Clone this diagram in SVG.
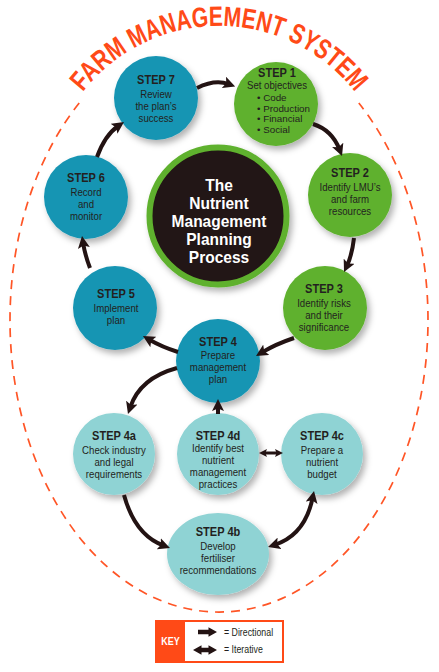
<svg xmlns="http://www.w3.org/2000/svg" width="439" height="672" viewBox="0 0 439 672">
<defs>
<style>
text{font-family:"Liberation Sans",Arial,sans-serif;fill:#231f20;text-anchor:middle}
.st{font-size:12px;font-weight:bold}
.bd{font-size:10.5px}
.bl{font-size:9.8px;text-anchor:start}
.ct{font-size:16px;font-weight:bold;fill:#ffffff}
.title{font-size:28px;font-weight:bold;fill:#ff4a17;text-anchor:start}
.blue{fill:#1795b3}
.green{fill:#5eb12e}
.teal{fill:#8fd3d4}
.conn{fill:none;stroke:#231313;stroke-width:4;marker-end:url(#ah)}
.dbl{marker-start:url(#ah)}
.small{stroke-width:3;marker-end:url(#ahs);marker-start:url(#ahs)}
.key{font-size:10px;text-anchor:start}
</style>
<filter id="sh" x="-30%" y="-30%" width="170%" height="170%">
<feDropShadow dx="3" dy="4" stdDeviation="3" flood-color="#000000" flood-opacity="0.3"/>
</filter>
<marker id="ah" viewBox="0 0 12 12" refX="5" refY="6" markerWidth="12" markerHeight="12" markerUnits="userSpaceOnUse" orient="auto-start-reverse">
<path d="M0,0 L12,6 L0,12 L2.5,6 Z" fill="#231313"/>
</marker>
<marker id="ahs" viewBox="0 0 12 12" refX="5" refY="6" markerWidth="8" markerHeight="8" markerUnits="userSpaceOnUse" orient="auto-start-reverse">
<path d="M0,0 L12,6 L0,12 L2.5,6 Z" fill="#231313"/>
</marker>
<path id="titlePath" d="M 56.4 139.8 A 173 173 0 0 1 381.6 139.8"/>
</defs>
<rect width="439" height="672" fill="#ffffff"/>

<g id="frame">
<path d="M 79.2 103 A 209 292 0 1 0 358.8 103" fill="none" stroke="#ff5526" stroke-width="1.7" stroke-dasharray="9 7"/>
<text class="title"><textPath href="#titlePath" startOffset="54.9" textLength="60.9" lengthAdjust="spacingAndGlyphs">FARM</textPath></text>
<text class="title"><textPath href="#titlePath" startOffset="121.6" textLength="153.5" lengthAdjust="spacingAndGlyphs">MANAGEMENT</textPath></text>
<text class="title"><textPath href="#titlePath" startOffset="281" textLength="86.8" lengthAdjust="spacingAndGlyphs">SYSTEM</textPath></text>
</g>

<g id="center">
<circle cx="218" cy="216" r="68.5" fill="#231313" stroke="#5eb12e" stroke-width="6" filter="url(#sh)"/>
<g transform="translate(219 0) scale(0.97 1)">
<text class="ct" x="0" y="191.5">The</text>
<text class="ct" x="0" y="209.5">Nutrient</text>
<text class="ct" x="0" y="227.5">Management</text>
<text class="ct" x="0" y="245.5">Planning</text>
<text class="ct" x="0" y="263.5">Process</text>
</g>
</g>

<g id="step7">
<circle class="blue" cx="156" cy="98" r="42" filter="url(#sh)"/>
<g transform="translate(156 0) scale(0.92 1)">
<text class="st" x="0" y="84">STEP 7</text>
<text class="bd" x="0" y="98.5">Review</text>
<text class="bd" x="0" y="110.5">the plan’s</text>
<text class="bd" x="0" y="122.5">success</text>
</g>
</g>

<g id="step1">
<circle class="green" cx="276" cy="104" r="42" filter="url(#sh)"/>
<g transform="translate(277 0) scale(0.92 1)">
<text class="st" x="0" y="77">STEP 1</text>
<text class="bd" x="0" y="89.5">Set objectives</text>
</g>
<g transform="translate(257 0)">
<text class="bl" x="0" y="100.8">• Code</text>
<text class="bl" x="0" y="111.5">• Production</text>
<text class="bl" x="0" y="122.2">• Financial</text>
<text class="bl" x="0" y="133">• Social</text>
</g>
</g>

<g id="step2">
<circle class="green" cx="350" cy="195" r="42" filter="url(#sh)"/>
<g transform="translate(350 0) scale(0.92 1)">
<text class="st" x="0" y="177">STEP 2</text>
<text class="bd" x="0" y="191">Identify LMU’s</text>
<text class="bd" x="0" y="203">and farm</text>
<text class="bd" x="0" y="215">resources</text>
</g>
</g>

<g id="step3">
<circle class="green" cx="325" cy="308" r="42" filter="url(#sh)"/>
<g transform="translate(324 0) scale(0.92 1)">
<text class="st" x="0" y="293">STEP 3</text>
<text class="bd" x="0" y="307">Identify risks</text>
<text class="bd" x="0" y="319">and their</text>
<text class="bd" x="0" y="331">significance</text>
</g>
</g>

<g id="step4">
<circle class="blue" cx="218" cy="361" r="42" filter="url(#sh)"/>
<g transform="translate(218 0) scale(0.92 1)">
<text class="st" x="0" y="346">STEP 4</text>
<text class="bd" x="0" y="359.5">Prepare</text>
<text class="bd" x="0" y="371.5">management</text>
<text class="bd" x="0" y="383.5">plan</text>
</g>
</g>

<g id="step5">
<circle class="blue" cx="115" cy="308" r="42" filter="url(#sh)"/>
<g transform="translate(116 0) scale(0.92 1)">
<text class="st" x="0" y="298">STEP 5</text>
<text class="bd" x="0" y="312">Implement</text>
<text class="bd" x="0" y="324">plan</text>
</g>
</g>

<g id="step6">
<circle class="blue" cx="86" cy="197" r="42" filter="url(#sh)"/>
<g transform="translate(86 0) scale(0.92 1)">
<text class="st" x="0" y="182">STEP 6</text>
<text class="bd" x="0" y="196">Record</text>
<text class="bd" x="0" y="208">and</text>
<text class="bd" x="0" y="220">monitor</text>
</g>
</g>

<g id="step4a">
<circle class="teal" cx="114" cy="454" r="41" filter="url(#sh)"/>
<g transform="translate(114 0) scale(0.92 1)">
<text class="st" x="0" y="440">STEP 4a</text>
<text class="bd" x="0" y="454">Check industry</text>
<text class="bd" x="0" y="466">and legal</text>
<text class="bd" x="0" y="478">requirements</text>
</g>
</g>

<g id="step4d">
<circle class="teal" cx="218" cy="454" r="41" filter="url(#sh)"/>
<g transform="translate(218 0) scale(0.92 1)">
<text class="st" x="0" y="440">STEP 4d</text>
<text class="bd" x="0" y="452.5">Identify best</text>
<text class="bd" x="0" y="464.5">nutrient</text>
<text class="bd" x="0" y="476.5">management</text>
<text class="bd" x="0" y="488.5">practices</text>
</g>
</g>

<g id="step4c">
<circle class="teal" cx="322" cy="454" r="41" filter="url(#sh)"/>
<g transform="translate(322 0) scale(0.92 1)">
<text class="st" x="0" y="440">STEP 4c</text>
<text class="bd" x="0" y="454">Prepare a</text>
<text class="bd" x="0" y="466">nutrient</text>
<text class="bd" x="0" y="478">budget</text>
</g>
</g>

<g id="step4b">
<ellipse class="teal" cx="218" cy="554" rx="51" ry="41" filter="url(#sh)"/>
<g transform="translate(218 0) scale(0.92 1)">
<text class="st" x="0" y="536">STEP 4b</text>
<text class="bd" x="0" y="550">Develop</text>
<text class="bd" x="0" y="562">fertiliser</text>
<text class="bd" x="0" y="574">recommendations</text>
</g>
</g>

<g id="connectors">
<path class="conn" d="M 197 88 Q 215 79 228.6 84.1"/>
<path class="conn" d="M 313 124 Q 332 130 339.5 149.5"/>
<path class="conn" d="M 354 238 Q 352 255 347 265.7"/>
<path class="conn" d="M 294 338 Q 276 344 262 352.4"/>
<path class="conn" d="M 178 352 Q 162 347 149 339.5"/>
<path class="conn" d="M 90 268 Q 85 255 83.1 243"/>
<path class="conn" d="M 97 157 Q 105 135 118.2 126"/>
<path class="conn" d="M 177 368 Q 140 378 130.2 407.3"/>
<path class="conn" d="M 218 414 L 218 406"/>
<path class="conn small" d="M 263.7 453 L 278.3 453"/>
<path class="conn" d="M 124 495 Q 135 535 163.4 545.5"/>
<path class="conn dbl" d="M 274.7 544.8 Q 305 535 312.6 497.9"/>
</g>

<g id="key">
<rect x="156" y="621" width="127" height="41" fill="#ffffff" stroke="#ff4a17" stroke-width="2"/>
<rect x="156" y="621" width="29" height="41" fill="#ff4a17"/>
<g transform="translate(170.5 0) scale(0.82 1)">
<text x="0" y="645" style="font-size:11px;font-weight:bold;fill:#ffffff">KEY</text>
</g>
<polygon points="198,629.8 208.5,629.8 208.5,627.3 217,632 208.5,636.7 208.5,634.2 198,634.2" fill="#231313"/>
<polygon points="193,650 201.5,645.3 201.5,647.8 208.5,647.8 208.5,645.3 217,650 208.5,654.7 208.5,652.2 201.5,652.2 201.5,654.7" fill="#231313"/>
<g transform="translate(224 0) scale(0.88 1)">
<text class="key" x="0" y="636">= Directional</text>
<text class="key" x="0" y="653">= Iterative</text>
</g>
</g>
</svg>
